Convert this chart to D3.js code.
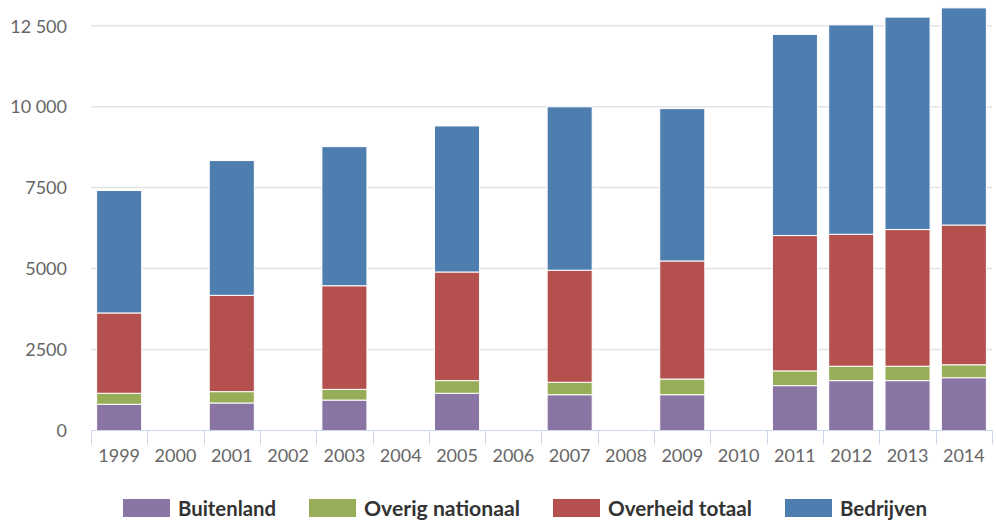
<!DOCTYPE html>
<html>
<head>
<meta charset="utf-8">
<script src="https://cdn.jsdelivr.net/npm/d3@7"></script>
<style>
  html, body { margin: 0; padding: 0; background: #fff; }
  svg { display: block; }
</style>
</head>
<body>
<svg id="chart" width="996" height="521"></svg>
<script>
// ---- data ----
const years = ["1999","2000","2001","2002","2003","2004","2005","2006","2007","2008","2009","2010","2011","2012","2013","2014"];
const seriesNames = ["Buitenland", "Overig nationaal", "Overheid totaal", "Bedrijven"];
const buitenland      = [810, null, 850, null, 940, null, 1150, null, 1105, null, 1105, null, 1385, 1540, 1540, 1630];
const overigNationaal = [340, null, 350, null, 330, null, 390, null, 385, null, 485, null, 455, 445, 445, 400];
const overheidTotaal  = [2480, null, 2975, null, 3200, null, 3355, null, 3460, null, 3645, null, 4180, 4075, 4220, 4315];
const bedrijven       = [3780, null, 4160, null, 4295, null, 4510, null, 5045, null, 4705, null, 6210, 6465, 6560, 6705];
const yTicks = [0, 2500, 5000, 7500, 10000, 12500];
const colors = ["#8a74a3", "#97ad57", "#b4504e", "#4e7daf"];

// ---- build table ----
const seriesValues = [buitenland, overigNationaal, overheidTotaal, bedrijven];
const table = years.map((yr, i) => {
  const row = { year: yr };
  seriesNames.forEach((s, k) => { row[s] = seriesValues[k][i] == null ? 0 : seriesValues[k][i]; });
  row.has = seriesValues[0][i] != null;
  return row;
});
const stacked = d3.stack().keys(seriesNames)(table);

const svg = d3.select("#chart");
const fontFam = "Lato, 'Open Sans', sans-serif";

const x = d3.scaleBand().domain(years).range([91, 992]).paddingInner(0.2).paddingOuter(0.1);
const y = d3.scaleLinear().domain([0, 12500]).range([430.5, 25.7]);

// gridlines
svg.append("g").selectAll("line").data(yTicks.filter(d => d > 0)).join("line")
  .attr("x1", 91).attr("x2", 992)
  .attr("y1", d => y(d)).attr("y2", d => y(d))
  .attr("stroke", "#e3e3e3").attr("stroke-width", 1.5);

// y axis labels
const yAxis = d3.axisLeft(y).tickValues(yTicks).tickSize(0).tickPadding(0)
  .tickFormat(v => v >= 10000 ? d3.format(",")(v).replace(/,/g, " ") : String(v));
const gy = svg.append("g").attr("transform", "translate(67,0)").call(yAxis);
gy.select(".domain").remove();
gy.selectAll("text").attr("font-family", fontFam).attr("font-size", 18)
  .attr("fill", "#666").attr("dy", "0.35em");

// bars
svg.append("g").selectAll("g").data(stacked).join("g")
  .attr("fill", (d, i) => colors[i])
  .selectAll("rect").data(d => d.filter(p => p.data.has)).join("rect")
  .attr("x", d => x(d.data.year))
  .attr("width", x.bandwidth())
  .attr("y", d => y(d[1]))
  .attr("height", d => y(d[0]) - y(d[1]))
  .attr("stroke", "#ffffff").attr("stroke-width", 1);

// x axis
const xAxisG = svg.append("g").attr("transform", "translate(0,430.5)");
xAxisG.append("line").attr("x1", 91).attr("x2", 992).attr("y1", 0).attr("y2", 0)
  .attr("stroke", "#ccd6eb").attr("stroke-width", 1);
const bounds = years.map(yr => x(yr) - x.step() * x.paddingOuter()).concat([992]);
xAxisG.selectAll("line.tick").data(bounds).join("line").attr("class", "tick")
  .attr("x1", d => Math.round(d) + 0.5).attr("x2", d => Math.round(d) + 0.5)
  .attr("y1", 0).attr("y2", 14)
  .attr("stroke", "#ccd6eb").attr("stroke-width", 1);
xAxisG.selectAll("text").data(years).join("text")
  .attr("x", d => x(d) + x.bandwidth() / 2)
  .attr("y", 31)
  .attr("text-anchor", "middle")
  .attr("font-family", fontFam).attr("font-size", 18).attr("fill", "#666")
  .text(d => d);

// legend
const legendTextWidths = [98, 156, 144, 87]; // layout: rendered label widths
const lg = svg.append("g");
let lx = 123;
seriesNames.forEach((name, i) => {
  lg.append("rect").attr("x", lx).attr("y", 499).attr("width", 47).attr("height", 18).attr("fill", colors[i]);
  lg.append("text").attr("x", lx + 55).attr("y", 516)
    .attr("font-family", fontFam).attr("font-weight", "bold").attr("font-size", 20)
    .attr("textLength", legendTextWidths[i]).attr("lengthAdjust", "spacingAndGlyphs")
    .attr("fill", "#333").text(name);
  lx = lx + 55 + legendTextWidths[i] + 33;
});
</script>
</body>
</html>
